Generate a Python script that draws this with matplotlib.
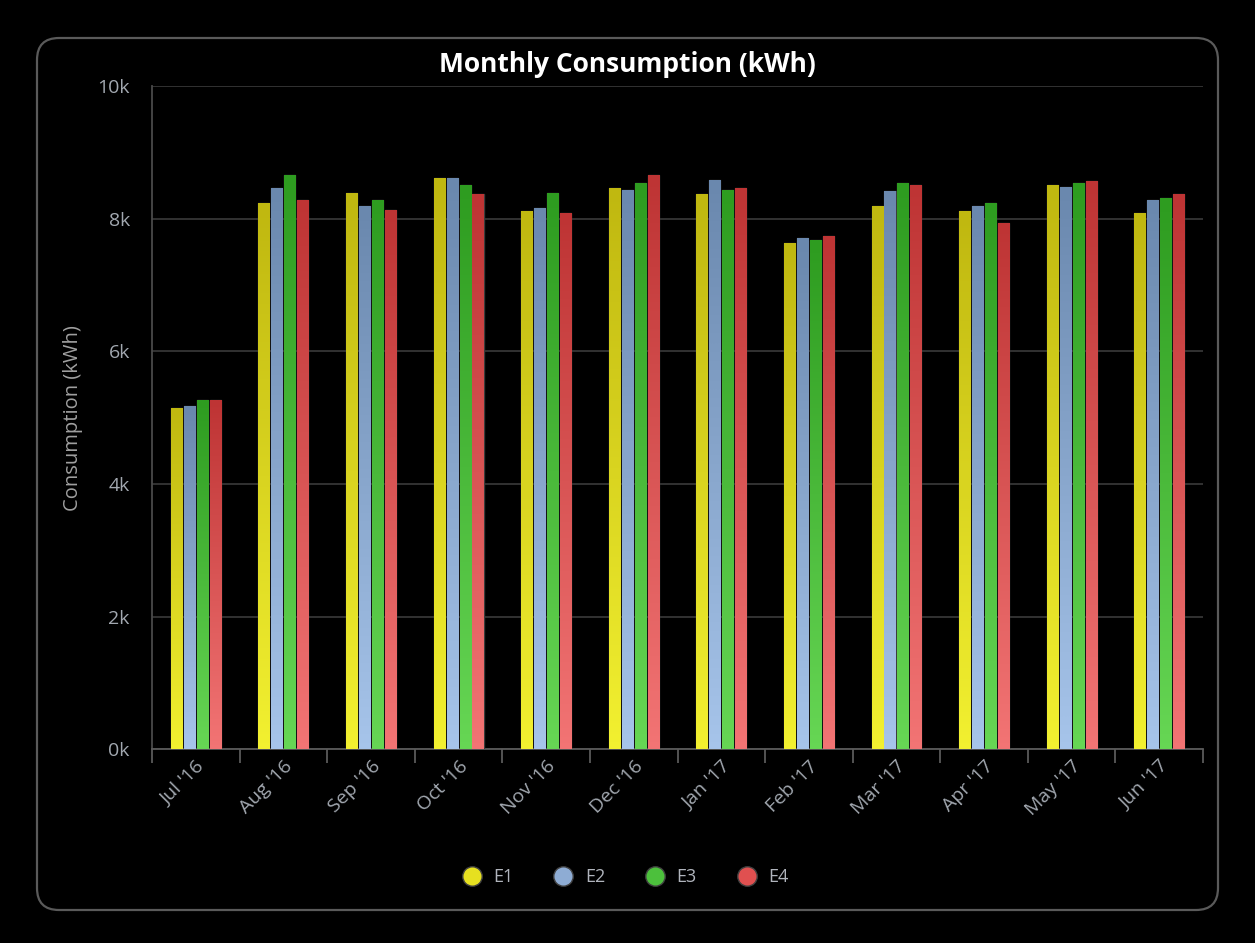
import numpy as np
import matplotlib.pyplot as plt
from matplotlib.patches import FancyBboxPatch
from matplotlib.colors import LinearSegmentedColormap
from matplotlib.lines import Line2D

months = ["Jul '16", "Aug '16", "Sep '16", "Oct '16", "Nov '16", "Dec '16",
          "Jan '17", "Feb '17", "Mar '17", "Apr '17", "May '17", "Jun '17"]
series = ["E1", "E2", "E3", "E4"]
e1 = [5150, 8240, 8390, 8620, 8120, 8470, 8370, 7640, 8190, 8120, 8520, 8090]
e2 = [5170, 8470, 8190, 8620, 8170, 8440, 8590, 7710, 8420, 8190, 8490, 8290]
e3 = [5270, 8670, 8290, 8520, 8390, 8540, 8440, 7690, 8540, 8240, 8540, 8320]
e4 = [5270, 8290, 8140, 8370, 8090, 8670, 8470, 7740, 8520, 7940, 8570, 8370]
values = [e1, e2, e3, e4]

# (bottom colour, top colour, legend colour) for each series
shades = [("#f2f030", "#c0b810", "#e6e020"),
          ("#a6c4ea", "#6a88ae", "#8eacd4"),
          ("#66d654", "#2e9c20", "#4cc03c"),
          ("#f27474", "#be3434", "#e05050")]

plt.rcParams['font.family'] = ['Open Sans', 'DejaVu Sans']
fig = plt.figure(figsize=(12.55, 9.43), dpi=100, facecolor='black')

# rounded frame around the whole chart
frame = FancyBboxPatch((0.37, 0.33), 11.81, 8.72,
                       boxstyle="round,pad=0,rounding_size=0.22",
                       transform=fig.dpi_scale_trans, facecolor='none',
                       edgecolor='#5a5a5a', linewidth=1.6, zorder=-1)
fig.patches.append(frame)

ax = fig.add_axes([0.1211, 0.2057, 0.8375, 0.7026])
ax.set_facecolor('black')

n = len(months)
bar_w = 0.126
pitch = 0.148
x = np.arange(n)
grad = np.linspace(0, 1, 64).reshape(-1, 1)

for i, (vals, (c_lo, c_hi, c_mid)) in enumerate(zip(values, shades)):
    cmap = LinearSegmentedColormap.from_list(series[i], [c_lo, c_hi])
    bars = ax.bar(x + (i - 1.5) * pitch, vals, width=bar_w, color=c_mid,
                  edgecolor='#3c3c3c', linewidth=1.0, zorder=3)
    # vertical gradient fill, clipped to each bar
    for rect, v in zip(bars, vals):
        x0 = rect.get_x()
        img = ax.imshow(grad, cmap=cmap, origin='lower', aspect='auto',
                        extent=(x0, x0 + bar_w, 0, v), zorder=3.5,
                        interpolation='bilinear')
        img.set_clip_path(rect)

ax.set_xlim(-0.5, n - 0.5)
ax.set_ylim(0, 10000)

ax.set_yticks(np.arange(0, 10001, 2000))
ax.set_yticklabels([f"{int(t / 1000)}k" for t in np.arange(0, 10001, 2000)])
ax.yaxis.grid(True, color='#3a3a3a', linewidth=1.2, zorder=1)
ax.set_axisbelow(True)

ax.set_xticks(x)
ax.set_xticklabels(months, rotation=45, ha='right', va='top', rotation_mode='anchor')
ax.set_xticks(np.arange(-0.5, n, 1), minor=True)
ax.tick_params(axis='x', which='major', length=0, pad=6, colors='#a2a8b0', labelsize=14)
ax.tick_params(axis='x', which='minor', length=10, width=1.3, color='#5a5a5a')
ax.tick_params(axis='y', length=0, pad=16, colors='#a2a8b0', labelsize=14)

for side in ['top', 'right']:
    ax.spines[side].set_visible(False)
ax.spines['left'].set_color('#4a4a4a')
ax.spines['left'].set_linewidth(1.3)
ax.spines['bottom'].set_color('#5a5a5a')
ax.spines['bottom'].set_linewidth(1.3)

fig.text(0.5, 1 - 65 / 943, "Monthly Consumption (kWh)", color='white',
         fontsize=19, fontweight='bold', ha='center', va='center')
ax.set_ylabel("Consumption (kWh)", color='#a0a0a0', fontsize=14.5, labelpad=10)

handles = [Line2D([], [], linestyle='none', marker='o', markersize=14,
                  markerfacecolor=s[2], markeredgecolor='#404040')
           for s in shades]
fig.legend(handles, series, loc='center', bbox_to_anchor=(0.495, 0.07), ncol=4,
           frameon=False, labelcolor='#b0b4bc', fontsize=13,
           handletextpad=0.2, columnspacing=1.75)

fig.savefig('out.png', dpi=100, facecolor='black')
